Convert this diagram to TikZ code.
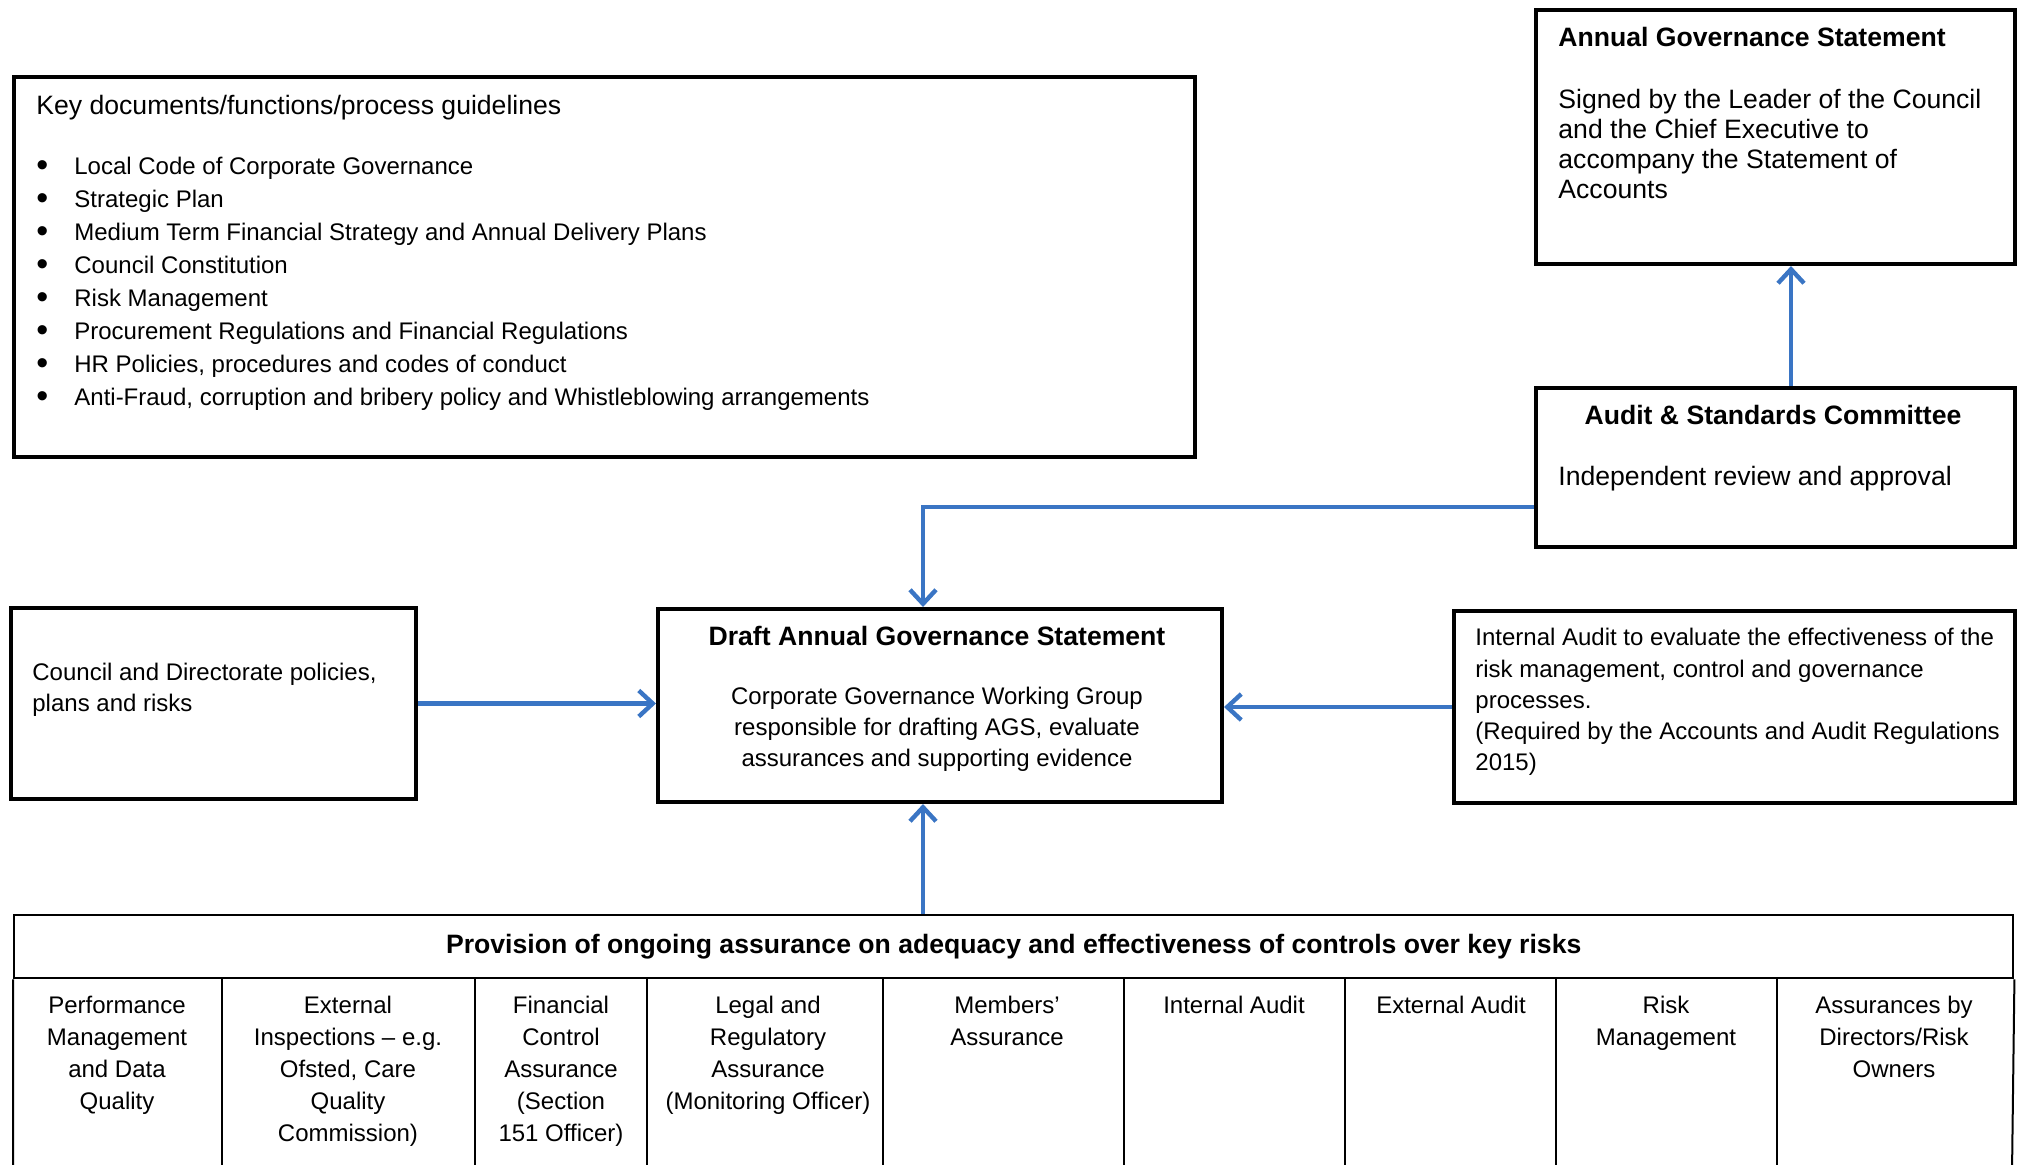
\documentclass[tikz,border=0pt]{standalone}
\usepackage{fontspec}
\setmainfont{Liberation Sans}
\usetikzlibrary{arrows.meta}
\definecolor{arrowblue}{RGB}{58,117,196}
\newcommand{\kditem}{\leavevmode\llap{\raisebox{-1pt}{\fontsize{17}{17}\selectfont\textbullet}\hspace{13pt}}}

\begin{document}
\begin{tikzpicture}[x=0.5pt, y=-0.5pt,
  box/.style = {draw, line width=2pt, anchor=north west, inner sep=0pt},
  txt/.style = {inner sep=0pt, anchor=north west, align=left, font=\fontsize{12}{15.5}\selectfont},
  big/.style = {inner sep=0pt, anchor=north west, align=left, font=\fontsize{13.3}{15}\selectfont},
  ttl/.style = {inner sep=0pt, font=\bfseries\fontsize{13.3}{15}\selectfont},
  cell/.style = {inner sep=0pt, anchor=north, align=center, font=\fontsize{12}{16}\selectfont},
  rule/.style = {line width=1pt},
  flow/.style = {draw=arrowblue, line width=2.2pt, -{Straight Barb[length=7pt, width=13pt]}}]
  \useasboundingbox (0,0) rectangle (2022,1164);

  % boxes
  \node[box, minimum width=590.5pt, minimum height=190pt] (keydocs) at (12,75) {};
  \node[box, minimum width=239.5pt, minimum height=127pt] (ags) at (1534,8) {};
  \node[box, minimum width=239.5pt, minimum height=79.5pt] (audit) at (1534,386) {};
  \node[box, minimum width=202.5pt, minimum height=95.5pt] (council) at (9,606) {};
  \node[box, minimum width=282pt, minimum height=96.5pt] (draft) at (656,607) {};
  \node[box, minimum width=280.5pt, minimum height=96pt] (intaudit) at (1452,609) {};

  % key documents
  \node[big] (keytitle) at (36,95) {Key documents/functions/process guidelines};
  \node[txt, font=\fontsize{12}{16.5}\selectfont] (keylist) at (74,157) {\kditem Local Code of Corporate Governance\\
    \kditem Strategic Plan\\
    \kditem Medium Term Financial Strategy and Annual Delivery Plans\\
    \kditem Council Constitution\\
    \kditem Risk Management\\
    \kditem Procurement Regulations and Financial Regulations\\
    \kditem HR Policies, procedures and codes of conduct\\
    \kditem Anti-Fraud, corruption and bribery policy and Whistleblowing arrangements};

  % right hand boxes
  \node[ttl, anchor=north west] (agstitle) at (1558,27) {Annual Governance Statement};
  \node[big] (agsbody) at (1558,89) {Signed by the Leader of the Council\\and the Chief Executive to\\accompany the Statement of\\Accounts};
  \node[ttl, anchor=north] (audittitle) at (1773,405) {Audit \& Standards Committee};
  \node[big] (auditbody) at (1558,466) {Independent review and approval};

  % middle row
  \node[txt] (counciltext) at (32,663) {Council and Directorate policies,\\plans and risks};
  \node[ttl, anchor=north] (drafttitle) at (937,626) {Draft Annual Governance Statement};
  \node[txt, anchor=north, align=center] (draftbody) at (937,687) {Corporate Governance Working Group\\responsible for drafting AGS, evaluate\\assurances and supporting evidence};
  \node[txt, font=\fontsize{12}{15.6}\selectfont] (iatext) at (1475,628) {Internal Audit to evaluate the effectiveness of the\\risk management, control and governance\\processes.\\(Required by the Accounts and Audit Regulations\\2015)};

  % assurance table
  \node[draw, line width=1.2pt, anchor=north west, inner sep=0pt, minimum width=999.5pt, minimum height=31.5pt,
    font=\bfseries\fontsize{13.3}{15}\selectfont] (header) at (13,914) {Provision of ongoing assurance on adequacy and effectiveness of controls over key risks};
  \draw[rule] (header.south west) -- (13,1172) (header.south east) -- (2012,1172);
  \foreach \x in {222,475,647,883,1124,1345,1556,1777}
    \draw[rule] (\x,977) -- (\x,1172);
  \node[cell] (perf) at (117,996) {Performance\\Management\\and Data\\Quality};
  \node[cell] (inspect) at (348,996) {External\\Inspections – e.g.\\Ofsted, Care\\Quality\\Commission)};
  \node[cell] (finance) at (561,996) {Financial\\Control\\Assurance\\(Section\\151 Officer)};
  \node[cell] (legal) at (768,996) {Legal and\\Regulatory\\Assurance\\(Monitoring Officer)};
  \node[cell] (members) at (1007,996) {Members’\\Assurance};
  \node[cell] (internal) at (1234,996) {Internal Audit};
  \node[cell] (external) at (1451,996) {External Audit};
  \node[cell] (risk) at (1666,996) {Risk\\Management};
  \node[cell] (owners) at (1894,996) {Assurances by\\Directors/Risk\\Owners};

  % connectors
  \coordinate (spine) at (923,0);
  \draw[flow] ([xshift=7.75pt]audit.north) -- ([xshift=7.75pt]ags.south);
  \draw[flow] ([yshift=-19.75pt]audit.west) -| (spine |- draft.north);
  \draw[flow] (council.east) -- (council.east -| draft.west);
  \draw[flow] (intaudit.west) -- (intaudit.west -| draft.east);
  \draw[flow] (spine |- header.north) -- (spine |- draft.south);
\end{tikzpicture}
\end{document}
